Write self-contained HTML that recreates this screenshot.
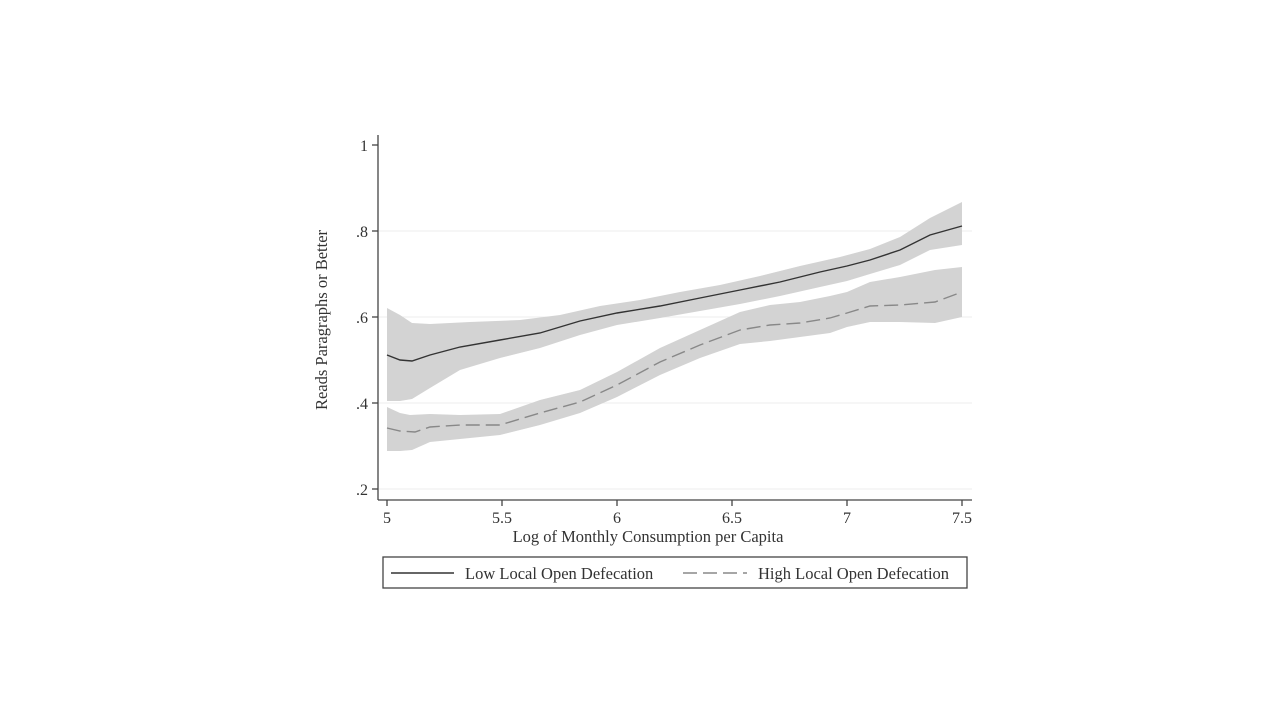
<!DOCTYPE html>
<html><head><meta charset="utf-8"><style>
html,body{margin:0;padding:0;background:#fff;}
svg{display:block;font-family:"Liberation Serif",serif;}
</style></head><body>
<svg width="1280" height="720" viewBox="0 0 1280 720">
<g stroke="#eeeeee" stroke-width="1">
<line x1="379" y1="231" x2="972" y2="231"/><line x1="379" y1="317" x2="972" y2="317"/><line x1="379" y1="403" x2="972" y2="403"/><line x1="379" y1="489" x2="972" y2="489"/>
</g>
<polygon fill="#d3d3d3" points="387,308 400,315 412,323 430,324 470,322 520,320 560,315 600,306 640,300 680,292 720,285 760,276 800,266 840,257 870,249 900,237 930,218 962,202 962,245 930,250 900,265 870,274 847,281 820,287 780,296 740,304 700,311 660,318 617,325 580,335 540,348 500,358 460,370 430,388 412,399 400,401 387,401"/>
<polygon fill="#d3d3d3" points="387,407 400,413 410,415 430,414 460,415 500,414 540,400 580,390 617,372 660,348 700,330 740,312 770,305 800,302 830,296 847,292 870,282 900,277 935,270 962,267 962,317 935,323 900,322 870,322 847,327 830,333 800,337 770,341 740,344 700,358 660,375 617,397 580,413 540,425 500,435 460,439 430,442 412,450 400,451 387,451"/>
<polyline fill="none" stroke="#333" stroke-width="1.4" points="387,355 400,360 412,361 430,355 460,347 500,340 540,333 580,321 617,313 660,306 700,298 740,290 780,282 820,272 847,266 870,260 900,250 930,235 962,226"/>
<polyline fill="none" stroke="#888" stroke-width="1.4" stroke-dasharray="14,6" points="387,428 400,431 415,432 430,427 460,425 500,425 540,413 580,402 617,385 660,362 700,345 740,330 770,325 800,323 830,318 847,313 870,306 900,305 935,302 962,292"/>
<g stroke="#444" stroke-width="1.3">
<line x1="378" y1="135" x2="378" y2="500"/><line x1="378" y1="500" x2="972" y2="500"/>
<line x1="372" y1="145" x2="378" y2="145"/><line x1="372" y1="231" x2="378" y2="231"/><line x1="372" y1="317" x2="378" y2="317"/><line x1="372" y1="403" x2="378" y2="403"/><line x1="372" y1="489" x2="378" y2="489"/>
<line x1="387" y1="500" x2="387" y2="506"/><line x1="502" y1="500" x2="502" y2="506"/><line x1="617" y1="500" x2="617" y2="506"/><line x1="732" y1="500" x2="732" y2="506"/><line x1="847" y1="500" x2="847" y2="506"/><line x1="962" y1="500" x2="962" y2="506"/>
</g>
<g font-size="16" fill="#333" text-anchor="end">
<text x="368" y="151">1</text><text x="368" y="237">.8</text><text x="368" y="323">.6</text><text x="368" y="409">.4</text><text x="368" y="495">.2</text>
</g>
<g font-size="16" fill="#333" text-anchor="middle">
<text x="387" y="523">5</text><text x="502" y="523">5.5</text><text x="617" y="523">6</text><text x="732" y="523">6.5</text><text x="847" y="523">7</text><text x="962" y="523">7.5</text>
<text x="648" y="542" font-size="16.5">Log of Monthly Consumption per Capita</text>
<text transform="translate(327,320) rotate(-90)" font-size="16.5">Reads Paragraphs or Better</text>
</g>
<rect x="383" y="557" width="584" height="31" fill="#fff" stroke="#444" stroke-width="1.3"/>
<line x1="391" y1="573" x2="454" y2="573" stroke="#333" stroke-width="1.4"/>
<line x1="683" y1="573" x2="747" y2="573" stroke="#888" stroke-width="1.4" stroke-dasharray="14,6"/>
<g font-size="16.5" fill="#333">
<text x="465" y="579">Low Local Open Defecation</text>
<text x="758" y="579">High Local Open Defecation</text>
</g>
</svg>
</body></html>
